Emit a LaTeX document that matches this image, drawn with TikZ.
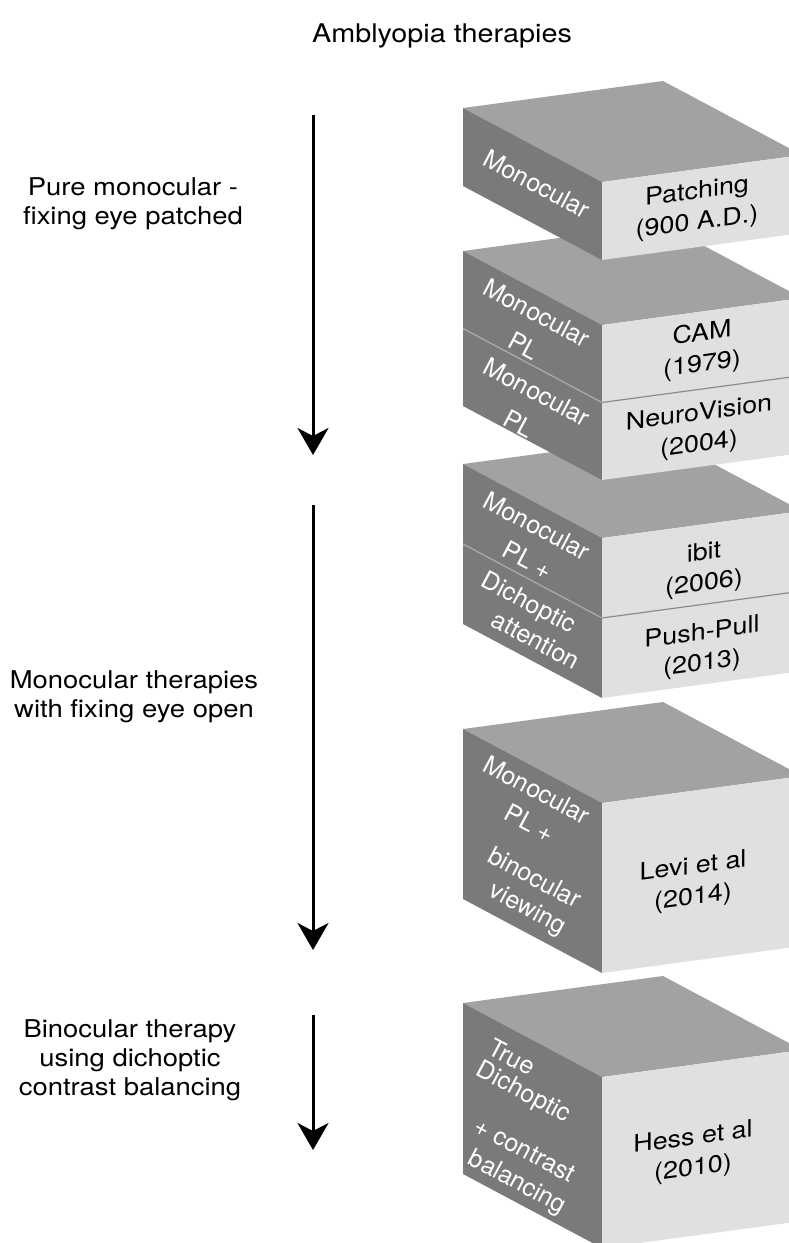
\documentclass[tikz,border=0pt]{standalone}
\usepackage{fontspec}
\setmainfont{TeX Gyre Heros}
\usetikzlibrary{arrows.meta}
\definecolor{topface}{RGB}{162,162,162}
\definecolor{sideface}{RGB}{122,122,122}
\definecolor{frontface}{RGB}{224,224,224}
\definecolor{sideline}{RGB}{172,172,172}
\definecolor{frontline}{RGB}{140,140,140}
\tikzset{
  sidetext/.style={text=white,font=\fontsize{25}{30}\selectfont,rotate=-28,inner sep=0pt},
  fronttext/.style={text=black,font=\fontsize{24}{31}\selectfont,align=center,yslant=0.135,xscale=1.12,inner sep=0pt},
  labeltext/.style={text=black,font=\fontsize{24.5}{29}\selectfont,align=center,xscale=1.12,inner sep=0pt},
  titletext/.style={text=black,font=\fontsize{25.7}{30}\selectfont,xscale=1.12,inner sep=0pt},
  flow/.style={line width=3pt,-{Stealth[length=27pt,width=31pt,inset=8pt]}},
  divl/.style={draw=sideline,line width=1.2pt},
  divf/.style={draw=frontline,line width=1.2pt},
}
\newcommand{\drawslab}[2]{%
  \fill[topface] (463,#1) -- ++(200,-27) -- ++(139,74) -- ++(-200,27) -- cycle;
  \fill[sideface] (463,#1) -- ++(139,74) -- ++(0,#2) -- ++(-139,-74) -- cycle;
  \fill[frontface] (602,#1+74) -- ++(200,-27) -- ++(0,#2) -- ++(-200,27) -- cycle;
}
\newcommand{\drawdivider}[1]{%
  \draw[divl] (463,#1) -- ++(139,74);
  \draw[divf] (602,#1+74) -- ++(200,-27);
}
\begin{document}
\begin{tikzpicture}[x=1pt,y=-1pt]
\useasboundingbox (0,0) rectangle (789,1243);
\fill[white] (0,0) rectangle (789,1243);
\clip (0,0) rectangle (789,1243);

\node[titletext] (title) at (442,36) {Amblyopia therapies};

% left labels
\node[labeltext] (lab1) at (133,204) {Pure monocular -\\fixing eye patched};
\node[labeltext] (lab2) at (134,697) {Monocular therapies\\with fixing eye open};
\node[labeltext] (lab3) at (130,1060) {Binocular therapy\\using dichoptic\\contrast balancing};

% arrows
\coordinate (a1s) at (313,115);
\coordinate (a1e) at (313,455);
\coordinate (a2s) at (313,505);
\coordinate (a2e) at (313,950);
\coordinate (a3s) at (313,1015);
\coordinate (a3e) at (313,1150);
\draw[flow] (a1s) -- (a1e);
\draw[flow] (a2s) -- (a2e);
\draw[flow] (a3s) -- (a3e);

% box 5
\drawslab{1003}{171}
\node[sidetext] (s5a) at (512,1057) {True};
\node[sidetext] (s5b) at (523,1093) {Dichoptic};
\node[sidetext] (s5c) at (525,1150) {+ contrast};
\node[sidetext] (s5d) at (517,1183) {balancing};
\node[fronttext] (f5) at (693,1154) {Hess et al\\(2010)};

% box 4
\drawslab{729}{170}
\node[sidetext] (s4a) at (537,790) {Monocular};
\node[sidetext] (s4b) at (530,823) {PL +};
\node[sidetext] (s4c) at (535,877) {binocular};
\node[sidetext] (s4d) at (527,910) {viewing};
\node[fronttext] (f4) at (693,883) {Levi et al\\(2014)};

% box 3
\drawslab{464}{160}
\drawdivider{544}
\node[sidetext] (s3a) at (537,526) {Monocular};
\node[sidetext] (s3b) at (528,560) {PL +};
\node[sidetext] (s3c) at (528,604) {Dichoptic};
\node[sidetext] (s3d) at (536,640) {attention};
\node[fronttext] (f3a) at (704,569) {ibit\\(2006)};
\node[fronttext] (f3b) at (702,649) {Push-Pull\\(2013)};

% box 2
\drawslab{251}{155}
\drawdivider{328.5}
\node[sidetext] (s2a) at (537,313) {Monocular};
\node[sidetext] (s2b) at (524,346) {PL};
\node[sidetext] (s2c) at (537,392) {Monocular};
\node[sidetext] (s2d) at (519,424) {PL};
\node[fronttext] (f2a) at (702,350) {CAM\\(1979)};
\node[fronttext] (f2b) at (699,430) {NeuroVision\\(2004)};

% box 1
\drawslab{108}{78}
\node[sidetext] (s1) at (537,184) {Monocular};
\node[fronttext] (f1) at (697,208) {Patching\\(900 A.D.)};
\end{tikzpicture}
\end{document}
